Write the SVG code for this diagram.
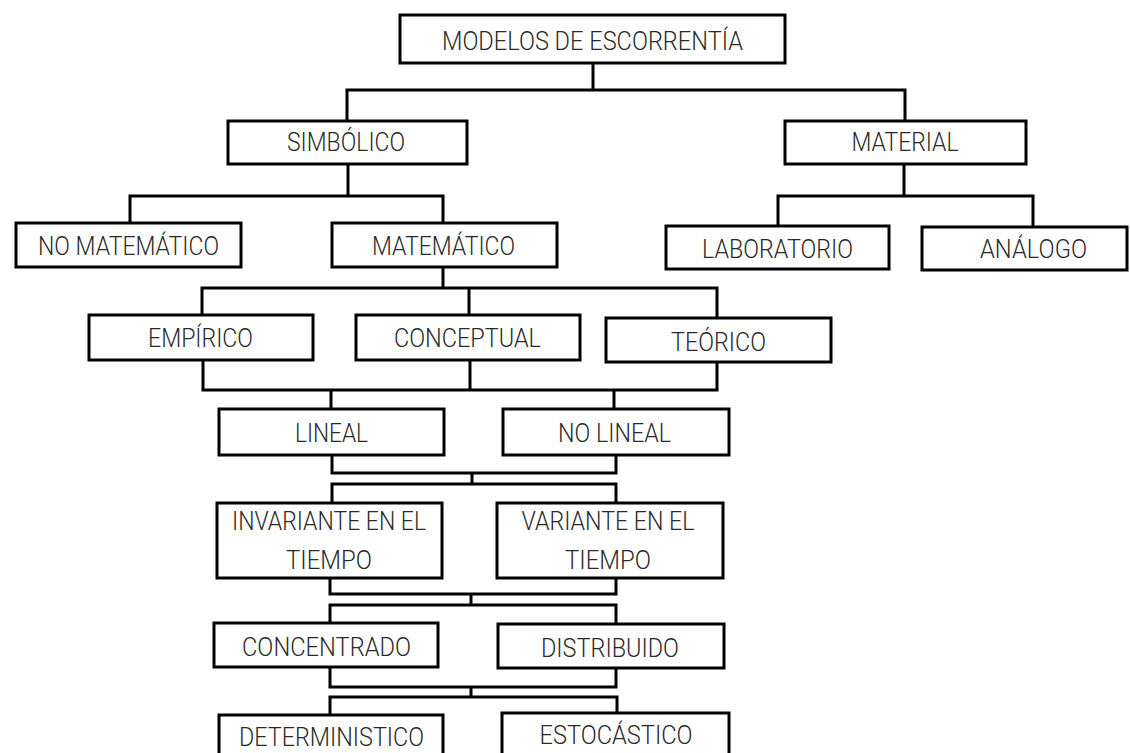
<svg xmlns="http://www.w3.org/2000/svg" width="1130" height="753" viewBox="0 0 1130 753">
<style>
.box{fill:#fff;stroke:#000;stroke-width:3}
.con{fill:none;stroke:#000;stroke-width:3;stroke-linejoin:miter}
.lbl{font-family:Roboto,"Liberation Sans",sans-serif;font-weight:300;font-size:25px;fill:#2a2a2a;text-anchor:middle}
</style>
<rect width="1130" height="753" fill="#fff"/>
<g id="connectors" class="con">
<path d="M593,63 V90"/>
<path d="M347,121 V90 H905 V121"/>
<path d="M348,164 V196"/>
<path d="M130,223 V196 H443 V223"/>
<path d="M904,164 V196"/>
<path d="M778,226 V196 H1033 V227"/>
<path d="M443,267 V288"/>
<path d="M202,315 V288 H717 V318"/>
<path d="M469,288 V315"/>
<path d="M203,360 V390 H717 V362"/>
<path d="M470,360 V390"/>
<path d="M331,390 V409"/>
<path d="M614,390 V409"/>
<path d="M332,455 V473 H616 V455"/>
<path d="M472,473 V484"/>
<path d="M332,503 V484 H616 V503"/>
<path d="M330,578 V594 H616 V578"/>
<path d="M471,594 V605"/>
<path d="M330,623 V605 H616 V624"/>
<path d="M330,667 V687 H616 V668"/>
<path d="M471,687 V697"/>
<path d="M330,715 V697 H617 V713"/>
</g>
<g id="n-modelos"><rect class="box" x="400" y="15" width="385" height="48"/><text class="lbl" x="592.5" y="50" textLength="301" lengthAdjust="spacingAndGlyphs">MODELOS DE ESCORRENTÍA</text></g>
<g id="n-simbolico"><rect class="box" x="228" y="121" width="239" height="43"/><text class="lbl" x="346" y="151" textLength="118" lengthAdjust="spacingAndGlyphs">SIMBÓLICO</text></g>
<g id="n-material"><rect class="box" x="785" y="121" width="241" height="43"/><text class="lbl" x="905" y="151" textLength="107" lengthAdjust="spacingAndGlyphs">MATERIAL</text></g>
<g id="n-nomatematico"><rect class="box" x="16" y="223" width="225" height="44"/><text class="lbl" x="128.5" y="255" textLength="181" lengthAdjust="spacingAndGlyphs">NO MATEMÁTICO</text></g>
<g id="n-matematico"><rect class="box" x="332" y="223" width="225" height="44"/><text class="lbl" x="443.5" y="255" textLength="143" lengthAdjust="spacingAndGlyphs">MATEMÁTICO</text></g>
<g id="n-laboratorio"><rect class="box" x="666" y="226" width="223" height="43"/><text class="lbl" x="777.5" y="258" textLength="151" lengthAdjust="spacingAndGlyphs">LABORATORIO</text></g>
<g id="n-analogo"><rect class="box" x="922" y="227" width="205" height="43"/><text class="lbl" x="1033.5" y="258" textLength="107" lengthAdjust="spacingAndGlyphs">ANÁLOGO</text></g>
<g id="n-empirico"><rect class="box" x="89" y="315" width="224" height="45"/><text class="lbl" x="200.5" y="347" textLength="105" lengthAdjust="spacingAndGlyphs">EMPÍRICO</text></g>
<g id="n-conceptual"><rect class="box" x="356" y="315" width="224" height="45"/><text class="lbl" x="467.5" y="347" textLength="147" lengthAdjust="spacingAndGlyphs">CONCEPTUAL</text></g>
<g id="n-teorico"><rect class="box" x="606" y="318" width="225" height="44"/><text class="lbl" x="718.5" y="351" textLength="95" lengthAdjust="spacingAndGlyphs">TEÓRICO</text></g>
<g id="n-lineal"><rect class="box" x="219" y="409" width="225" height="46"/><text class="lbl" x="331.5" y="442" textLength="73" lengthAdjust="spacingAndGlyphs">LINEAL</text></g>
<g id="n-nolineal"><rect class="box" x="503" y="409" width="226" height="46"/><text class="lbl" x="614.5" y="442" textLength="113" lengthAdjust="spacingAndGlyphs">NO LINEAL</text></g>
<g id="n-invariante"><rect class="box" x="217" y="503" width="225" height="75"/><text class="lbl" x="329" y="530" textLength="194" lengthAdjust="spacingAndGlyphs">INVARIANTE EN EL</text><text class="lbl" x="329" y="569" textLength="86" lengthAdjust="spacingAndGlyphs">TIEMPO</text></g>
<g id="n-variante"><rect class="box" x="497" y="503" width="226" height="75"/><text class="lbl" x="608" y="530" textLength="173" lengthAdjust="spacingAndGlyphs">VARIANTE EN EL</text><text class="lbl" x="608" y="569" textLength="86" lengthAdjust="spacingAndGlyphs">TIEMPO</text></g>
<g id="n-concentrado"><rect class="box" x="214" y="623" width="224" height="44"/><text class="lbl" x="326.5" y="656" textLength="169" lengthAdjust="spacingAndGlyphs">CONCENTRADO</text></g>
<g id="n-distribuido"><rect class="box" x="498" y="624" width="226" height="44"/><text class="lbl" x="610" y="657" textLength="138" lengthAdjust="spacingAndGlyphs">DISTRIBUIDO</text></g>
<g id="n-deterministico"><rect class="box" x="219" y="715" width="224" height="50"/><text class="lbl" x="331.5" y="746" textLength="185" lengthAdjust="spacingAndGlyphs">DETERMINISTICO</text></g>
<g id="n-estocastico"><rect class="box" x="502" y="713" width="227" height="52"/><text class="lbl" x="616" y="744" textLength="153" lengthAdjust="spacingAndGlyphs">ESTOCÁSTICO</text></g>
</svg>
